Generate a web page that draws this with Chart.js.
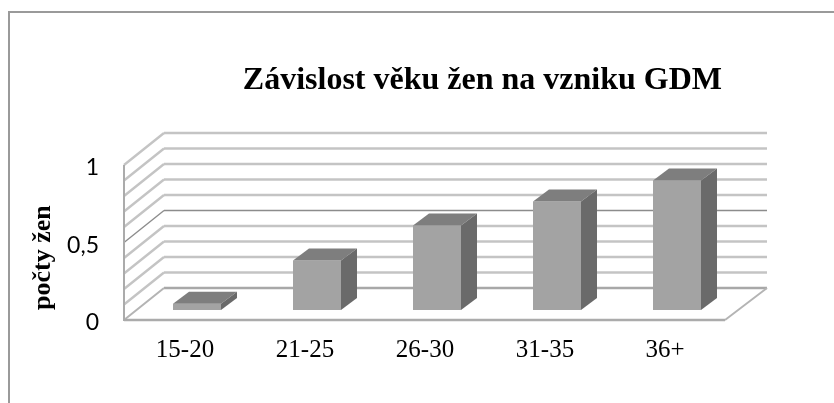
<!DOCTYPE html>
<html>
<head>
<meta charset="utf-8">
<script src="https://cdn.jsdelivr.net/npm/chart.js@4"></script>
<style>
    html, body { margin: 0; background: #fff; overflow: hidden; }
    #frame { position: absolute; left: 8px; top: 11px; right: -5px; bottom: -5px; border: 2px solid #9a9a9a; }
    canvas { position: absolute; left: 0; top: 0; filter: blur(0.45px); }
</style>
</head>
<body>
<div id="frame"></div>
<canvas id="chart" width="834" height="403"></canvas>
<script>
const categories = ['15-20', '21-25', '26-30', '31-35', '36+']
const values = [0.04, 0.32, 0.545, 0.70, 0.835]

const titleText = 'Závislost věku žen na vzniku GDM'
const yTitle = 'počty žen'

// 3D look: offsets from the bar plane
const front = { x: -13, y: 10 }
const backLeft = 27, backRight = 30, backY = -22
const barDepth = { x: 16, y: -12 }

function line(ctx, x1, y1, x2, y2, color, width) {
    ctx.strokeStyle = color
    ctx.lineWidth = width
    ctx.beginPath()
    ctx.moveTo(x1, y1)
    ctx.lineTo(x2, y2)
    ctx.stroke()
}

function face(ctx, pts, color) {
    ctx.fillStyle = color
    ctx.beginPath()
    pts.forEach((p, i) => i ? ctx.lineTo(p[0], p[1]) : ctx.moveTo(p[0], p[1]))
    ctx.closePath()
    ctx.fill()
}

const walls = {
    id: 'walls',
    afterLayout(chart) {
        // title sits right of the canvas centre
        chart.titleBlock.right = 722
    },
    beforeDatasetsDraw(chart) {
        const { ctx, scales: { x, y } } = chart
        const fl = x.left + front.x, bl = x.left + backLeft
        const br = x.right + backRight, fr = x.right + front.x + 1
        ctx.save()
        for (const t of y.ticks) {
            const p = y.getPixelForValue(t.value)
            const isMid = t.value === 0.5
            const color = isMid ? '#8c8c8c' : '#c4c4c4'
            const w = isMid ? 1.5 : 2.5
            if (t.value === 0) continue
            line(ctx, fl, p + front.y, bl, p + backY, color, w)
            line(ctx, bl, p + backY, br, p + backY, color, w)
        }
        const y0 = y.getPixelForValue(0), y1 = y.getPixelForValue(1)
        line(ctx, bl, y0 + backY, br, y0 + backY, '#a8a8a8', 2.5)
        line(ctx, fl, y0 + front.y, bl, y0 + backY, '#b4b4b4', 2)
        line(ctx, fr, y0 + front.y, br, y0 + backY, '#b4b4b4', 2)
        line(ctx, fl, y0 + front.y, fr, y0 + front.y, '#ababab', 2.5)
        line(ctx, fl, y0 + front.y + 1, fl, y1 + front.y, '#ababab', 2)
        ctx.restore()
    },
    afterDatasetsDraw(chart) {
        const { ctx } = chart
        const dx = barDepth.x, dy = barDepth.y
        ctx.save()
        for (const bar of chart.getDatasetMeta(0).data) {
            const l = bar.x - bar.width / 2, r = bar.x + bar.width / 2
            face(ctx, [[l, bar.y], [l + dx, bar.y + dy], [r + dx, bar.y + dy], [r, bar.y]], '#7e7e7e')
            face(ctx, [[r, bar.y], [r + dx, bar.y + dy], [r + dx, bar.base + dy], [r, bar.base]], '#6a6a6a')
        }
        ctx.restore()
    }
}

new Chart(document.getElementById('chart'), {
    type: 'bar',
    data: {
        labels: categories,
        datasets: [{
            data: values,
            backgroundColor: '#a3a3a3',
            categoryPercentage: 1,
            barPercentage: 0.4
        }]
    },
    plugins: [walls],
    options: {
        responsive: false,
        animation: false,
        layout: { padding: { left: 28, top: 62, right: 97, bottom: 0 } },
        plugins: {
            legend: { display: false },
            tooltip: { enabled: false },
            title: {
                display: true,
                text: titleText,
                align: 'end',
                color: '#000',
                font: { family: 'Liberation Serif', size: 32, weight: 'bold', lineHeight: 1.2 },
                padding: { top: 0, bottom: 54.6 }
            }
        },
        scales: {
            x: {
                grid: { display: false },
                border: { display: false },
                afterFit(s) { s.height = 93 },
                ticks: {
                    color: '#000',
                    labelOffset: -12,
                    padding: 17,
                    maxRotation: 0,
                    font: { family: 'Liberation Serif', size: 25 }
                }
            },
            y: {
                min: 0,
                max: 1,
                grid: { display: false },
                border: { display: false },
                afterFit(s) { s.width = 109 },
                title: {
                    display: true,
                    text: yTitle + '\u00a0',
                    align: 'start',
                    color: '#000',
                    padding: 0,
                    font: { family: 'Liberation Serif', size: 26, weight: 'bold' }
                },
                ticks: {
                    color: '#000',
                    stepSize: 0.1,
                    autoSkip: false,
                    crossAlign: 'near',
                    labelOffset: 13,
                    padding: 30,
                    font: { family: 'Lato', size: 23 },
                    callback(v) {
                        const n = Math.round(v * 10)
                        return n % 5 === 0 ? String(n / 10).replace('.', ',') : ''
                    }
                }
            }
        }
    }
})
</script>
</body>
</html>
